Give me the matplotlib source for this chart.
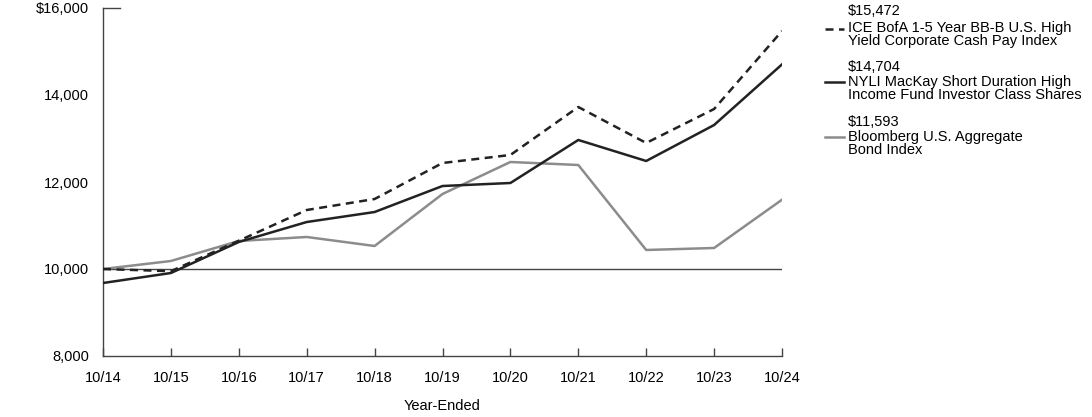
import matplotlib

matplotlib.use("Agg")
import matplotlib.pyplot as plt  # noqa: E402
from matplotlib.lines import Line2D  # noqa: E402
from matplotlib.ticker import FuncFormatter  # noqa: E402

plt.rcParams["font.family"] = ["Liberation Sans", "DejaVu Sans"]

years = ["10/14", "10/15", "10/16", "10/17", "10/18", "10/19",
         "10/20", "10/21", "10/22", "10/23", "10/24"]
ice_index = [10000, 9950, 10650, 11356, 11609, 12437, 12621, 13724, 12897, 13678, 15472]
fund = [9678, 9908, 10621, 11080, 11310, 11908, 11977, 12966, 12483, 13310, 14704]
bloomberg = [10000, 10184, 10644, 10736, 10529, 11724, 12460, 12391, 10437, 10483, 11593]

series_names = [
    "ICE BofA 1-5 Year BB-B U.S. High\nYield Corporate Cash Pay Index",
    "NYLI MacKay Short Duration High\nIncome Fund Investor Class Shares",
    "Bloomberg U.S. Aggregate\nBond Index",
]
end_values = ["$15,472", "$14,704", "$11,593"]

DARK = "#222222"
GRAY = "#8c8c8c"
AXIS = "#444444"
FS = 10.5

fig = plt.figure(figsize=(10.92, 4.17), dpi=100)
ax = fig.add_axes([103 / 1092, 1 - 356 / 417, (782 - 103) / 1092, (356 - 8) / 417])

x = list(range(len(years)))
ax.axhline(10000, color=AXIS, lw=1.0, zorder=1)
ax.plot(x, bloomberg, color=GRAY, lw=1.8, zorder=2)
ax.plot(x, fund, color=DARK, lw=1.8, zorder=3)
ax.plot(x, ice_index, color=DARK, lw=1.8, ls=(0, (3.2, 2.2)), zorder=4)

ax.set_xlim(0, len(years) - 1)
ax.set_ylim(8000, 16000)
ax.set_yticks([8000, 10000, 12000, 14000, 16000])
ax.yaxis.set_major_formatter(
    FuncFormatter(lambda v, _: f"${v:,.0f}" if v == 16000 else f"{v:,.0f}")
)
ax.set_xticks(x, years)

for side in ("top", "right"):
    ax.spines[side].set_visible(False)
for side in ("left", "bottom"):
    ax.spines[side].set_color(AXIS)
    ax.spines[side].set_linewidth(1.0)

ax.tick_params(axis="y", length=0, pad=10, labelsize=FS, colors="black")
ax.tick_params(axis="x", direction="in", length=6, width=1.0, color=AXIS,
               pad=11, labelsize=FS)
# short cap at the top of the value axis
ax.plot([0, 0.25], [16000, 16000], color=AXIS, lw=1.0, clip_on=False)

ax.set_xlabel("Year-Ended", fontsize=FS, labelpad=10)

# legend drawn at the right, value above each name
styles = [
    dict(color=DARK, lw=1.8, ls=(0, (3.2, 2.2))),
    dict(color=DARK, lw=1.8),
    dict(color=GRAY, lw=1.8),
]
value_tops = [4, 60, 115]
name_tops = [21, 75, 130]
handle_ys = [29, 82, 137]
for vt, nt, hy, value, name, style in zip(value_tops, name_tops, handle_ys,
                                          end_values, series_names, styles):
    fig.text(848 / 1092, 1 - vt / 417, value, fontsize=FS, va="top", ha="left")
    fig.text(848 / 1092, 1 - nt / 417, name, fontsize=FS, va="top",
             ha="left", linespacing=0.88)
    y_line = 1 - hy / 417
    fig.add_artist(Line2D([825 / 1092, 844 / 1092], [y_line, y_line],
                          transform=fig.transFigure, **style))

fig.savefig("out.png", dpi=100)
